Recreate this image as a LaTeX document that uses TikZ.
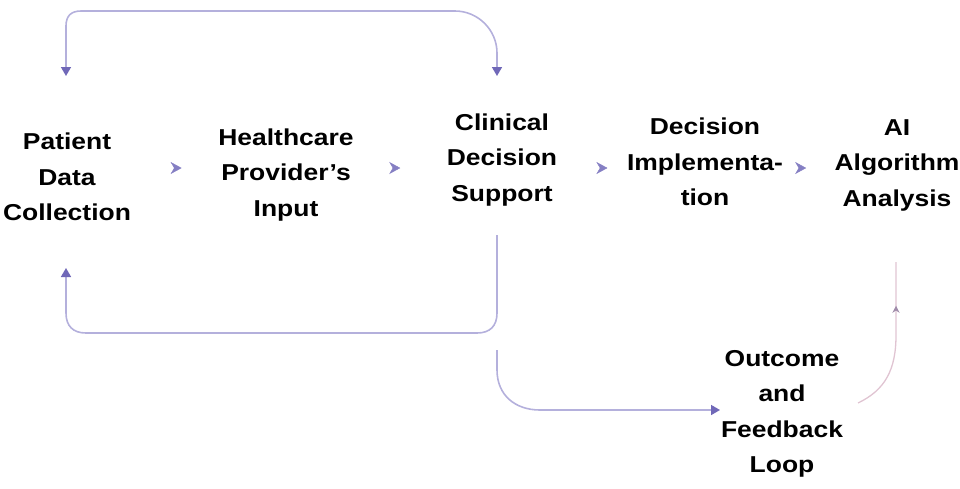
\documentclass[tikz,border=0pt]{standalone}
\usepackage{fontspec}
\setmainfont[FakeStretch=1.15]{Liberation Sans}
\usetikzlibrary{arrows.meta,decorations.markings}
\definecolor{lline}{RGB}{180,176,220}
\definecolor{lhead}{RGB}{112,104,184}
\definecolor{pline}{RGB}{224,196,210}
\definecolor{phead}{RGB}{160,140,170}
\tikzset{
  lbl/.style={align=center,font=\fontsize{23}{35.5}\selectfont\bfseries,inner sep=0pt},
  loophead/.tip={Triangle[length=9pt,width=10pt,fill=lhead,color=lhead]},
  loopline/.style={draw=lline,line width=1.6pt,-loophead},
  midarr/.style={draw=none,postaction={decorate},decoration={markings,mark=at position #1 with {\arrow[color=lhead!85]{Stealth[length=11pt,width=12pt,inset=3.5pt]}}}},
}
\begin{document}
\begin{tikzpicture}[x=1pt,y=-1pt]
\useasboundingbox (0,0) rectangle (960,488);
\node[lbl] (pdc) at (67,177) {Patient\\Data\\Collection};
\node[lbl] (hpi) at (286,175) {Healthcare\\Provider’s\\Input};
\node[lbl] (cds) at (502,160) {Clinical\\Decision\\Support};
\node[lbl] (dim) at (705,162) {Decision\\Implementa-\\tion};
\node[lbl] (aia) at (897,165) {AI\\Algorithm\\Analysis};
\node[lbl] (ofl) at (782,414) {Outcome\\and\\Feedback\\Loop};
% small arrows between nodes
\path[midarr=0.58] (pdc.east |- 0,168) -- (hpi.west |- 0,168);
\path[midarr=0.5] (hpi.east |- 0,168) -- (cds.west |- 0,168);
\path[midarr=0.72] (cds.east |- 0,168) -- (dim.west |- 0,168);
\path[midarr=0.45] (dim.east |- 0,168) -- (aia.west |- 0,168);
% coordinates
\coordinate (tl) at (66,76);
\coordinate (tr) at (497,76);
\coordinate (bs) at (497,235);
\coordinate (bl) at (66,268);
\coordinate (ds) at (497,350);
\coordinate (de) at (720,410);
\coordinate (as) at (858,403);
\coordinate (ae) at (896,262);
% top loop
\draw[loopline,loophead-loophead]
  (tl) -- (66,26) .. controls (66,16) and (71,11) .. (81,11) -- (455,11)
  .. controls (478,11) and (497,30) .. (497,53) -- (tr);
% bottom loop
\draw[loopline] (bs) -- (497,313) .. controls (497,326) and (490,333) .. (477,333)
  -- (86,333) .. controls (73,333) and (66,326) .. (66,313) -- (bl);
% to outcome
\draw[loopline] (ds) -- (497,370) .. controls (497,395) and (515,410) .. (540,410) -- (de);
% outcome back to AI
\draw[draw=pline,line width=1.3pt,postaction={decorate},decoration={markings,mark=at position 0.72 with {\arrow[color=phead]{Stealth[length=7pt,width=7pt]}}}]
  (as) .. controls (885,390) and (896,370) .. (896,335) -- (ae);
\end{tikzpicture}
\end{document}
